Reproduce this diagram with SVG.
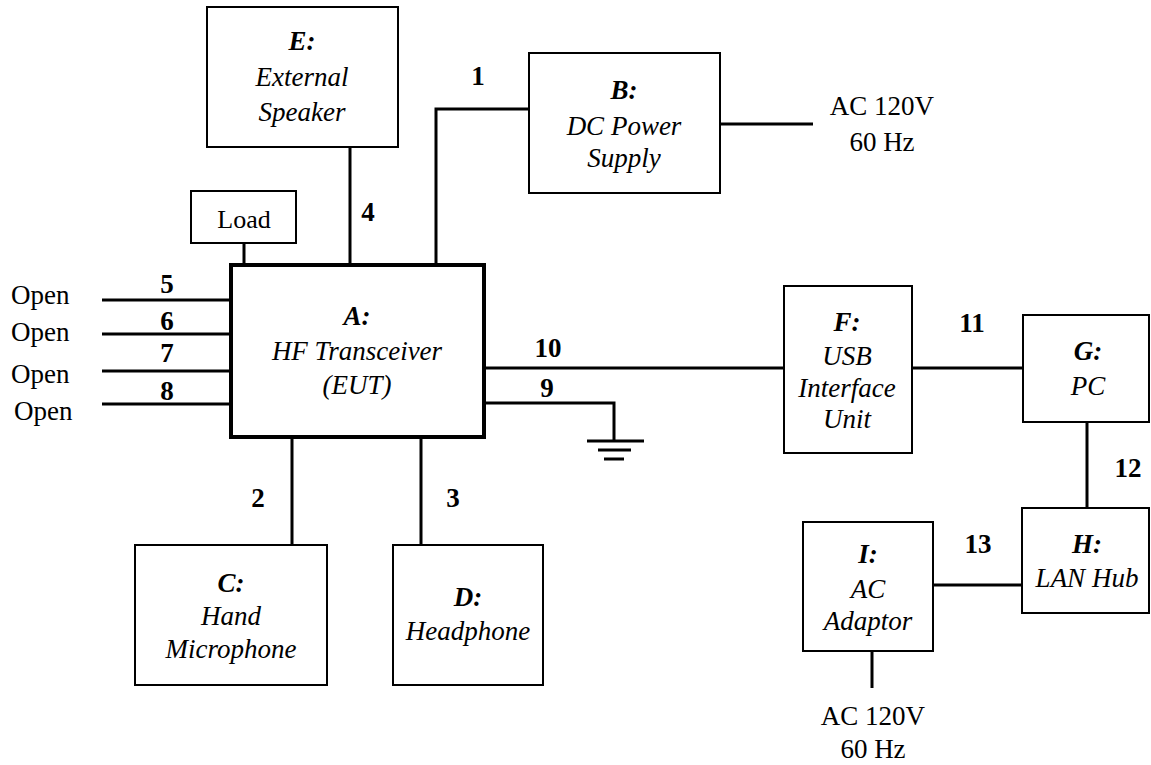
<svg xmlns="http://www.w3.org/2000/svg" width="1151" height="765" viewBox="0 0 1151 765">
<style>
.box{fill:#fff;stroke:#000;stroke-width:2}
.main{fill:#fff;stroke:#000;stroke-width:4}
.w{fill:none;stroke:#000;stroke-width:3}
text{font-family:"Liberation Serif","Times New Roman",serif;font-size:27px;fill:#000}
.t{text-anchor:middle;font-style:italic}
.h{font-weight:bold}
.n{font-weight:bold;text-anchor:middle}
.r{text-anchor:middle}
</style>
<rect width="1151" height="765" fill="#fff"/>
<g id="connectors">
<path class="w" d="M244,243V264"/>
<path class="w" d="M350,147V264"/>
<path class="w" d="M436,264V109H530"/>
<path class="w" d="M720,124H813"/>
<path class="w" d="M102,300H230M102,334H230M102,371H230M102,404H230"/>
<path class="w" d="M484,368H784"/>
<path class="w" d="M484,403H614V441"/>
<path class="w" d="M587,441H644M598,450H631M604,459H624" stroke-width="2.5"/>
<path class="w" d="M292,437V545M421,437V545"/>
<path class="w" d="M912,368H1023"/>
<path class="w" d="M1087,422V508"/>
<path class="w" d="M933,585H1022"/>
<path class="w" d="M872,651V688"/>
<text class="n" x="478" y="85">1</text>
<text class="n" x="368" y="221">4</text>
<text class="n" x="167" y="293">5</text>
<text class="n" x="167" y="330">6</text>
<text class="n" x="167" y="362">7</text>
<text class="n" x="167" y="400">8</text>
<text class="n" x="548" y="357">10</text>
<text class="n" x="547" y="397">9</text>
<text class="n" x="258" y="507">2</text>
<text class="n" x="453" y="507">3</text>
<text class="n" x="972" y="332">11</text>
<text class="n" x="1128" y="477">12</text>
<text class="n" x="978" y="553">13</text>
<text x="11" y="304">Open</text>
<text x="11" y="341">Open</text>
<text x="11" y="383">Open</text>
<text x="14" y="420">Open</text>
<text class="r" x="882" y="115">AC 120V</text>
<text class="r" x="882" y="151">60 Hz</text>
<text class="r" x="873" y="725">AC 120V</text>
<text class="r" x="873" y="758">60 Hz</text>
</g>
<g id="E">
<rect class="box" x="207" y="7" width="191" height="140"/>
<text class="t h" x="302" y="50">E:</text>
<text class="t" x="302" y="86">External</text>
<text class="t" x="302" y="121">Speaker</text>
</g>
<g id="Load">
<rect class="box" x="191" y="191" width="105" height="52"/>
<text class="r" x="244" y="228" style="font-size:26px">Load</text>
</g>
<g id="B">
<rect class="box" x="529" y="53" width="191" height="140"/>
<text class="t h" x="624" y="99">B:</text>
<text class="t" x="624" y="135">DC Power</text>
<text class="t" x="624" y="167">Supply</text>
</g>
<g id="A">
<rect class="main" x="231" y="265" width="253" height="172"/>
<text class="t h" x="357" y="325">A:</text>
<text class="t" x="357" y="360">HF Transceiver</text>
<text class="t" x="357" y="394">(EUT)</text>
</g>
<g id="C">
<rect class="box" x="135" y="545" width="192" height="140"/>
<text class="t h" x="231" y="592">C:</text>
<text class="t" x="231" y="625">Hand</text>
<text class="t" x="231" y="658">Microphone</text>
</g>
<g id="D">
<rect class="box" x="393" y="545" width="150" height="140"/>
<text class="t h" x="468" y="606">D:</text>
<text class="t" x="468" y="640">Headphone</text>
</g>
<g id="F">
<rect class="box" x="784" y="286" width="128" height="167"/>
<text class="t h" x="847" y="331">F:</text>
<text class="t" x="847" y="365">USB</text>
<text class="t" x="847" y="397">Interface</text>
<text class="t" x="847" y="428">Unit</text>
</g>
<g id="G">
<rect class="box" x="1023" y="315" width="126" height="107"/>
<text class="t h" x="1088" y="360">G:</text>
<text class="t" x="1088" y="395">PC</text>
</g>
<g id="H">
<rect class="box" x="1022" y="508" width="127" height="105"/>
<text class="t h" x="1087" y="553">H:</text>
<text class="t" x="1087" y="587">LAN Hub</text>
</g>
<g id="I">
<rect class="box" x="803" y="522" width="130" height="129"/>
<text class="t h" x="868" y="563">I:</text>
<text class="t" x="868" y="598">AC</text>
<text class="t" x="868" y="630">Adaptor</text>
</g>
</svg>
